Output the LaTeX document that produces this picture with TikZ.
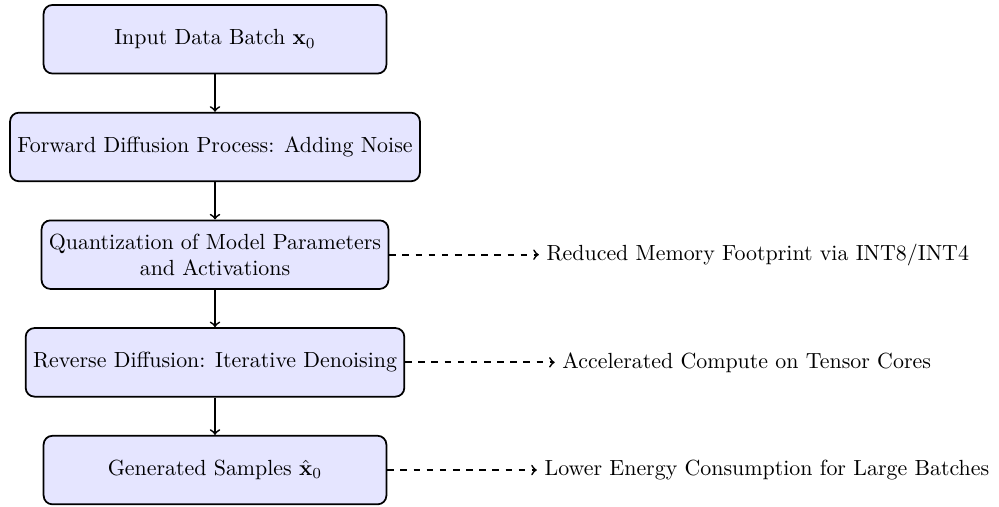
\documentclass[tikz,border=0pt]{standalone}
\usepackage{amsmath}
\usetikzlibrary{positioning,arrows}
\tikzset{process/.style={rectangle, draw=black, thick,
    rounded corners, fill=blue!10,
    text centered, minimum width=5.5cm, minimum height=1.1cm},
  myarrow/.style={->, thick},
  dasharrow/.style={->, thick, dashed},
  note/.style={anchor=west}
}

\begin{document}
\begin{tikzpicture}[node distance=0.6cm]

   \useasboundingbox (-3.45,0.63) rectangle (12.58,-7.49);

   %Input node
   \node (Node-A) [process] {Input Data Batch $\mathbf{x}_0$};

   %Forward node
   \node (Node-B) [process, below=of Node-A]
   {Forward Diffusion Process: Adding Noise};

   %Quantization node
   \node (Node-C) [process, below=of Node-B, align=center]
   {Quantization of Model Parameters\\ and Activations};

   %Reverse node
   \node (Node-D) [process, below=of Node-C]
   {Reverse Diffusion: Iterative Denoising};

   %Samples node
   \node (Node-E) [process, below=of Node-D]
   {Generated Samples $\hat{\mathbf{x}}_0$};

   %Side notes placed right of the nodes
   \node (Node-C+1) [note, right=2.4cm of Node-C.east]
   {Reduced Memory Footprint via INT8/INT4};
   \node (Node-D+1) [note, right=2.4cm of Node-D.east]
   {Accelerated Compute on Tensor Cores};
   \node (Node-E+1) [note, right=2.4cm of Node-E.east]
   {Lower Energy Consumption for Large Batches};

   \draw[myarrow] (Node-A.south) -- (Node-B.north);
   \draw[myarrow] (Node-B.south) -- (Node-C.north);
   \draw[myarrow] (Node-C.south) -- (Node-D.north);
   \draw[myarrow] (Node-D.south) -- (Node-E.north);

   \draw[dasharrow] (Node-C.east) -- (Node-C+1.west);
   \draw[dasharrow] (Node-D.east) -- (Node-D+1.west);
   \draw[dasharrow] (Node-E.east) -- (Node-E+1.west);

\end{tikzpicture}
\end{document}
